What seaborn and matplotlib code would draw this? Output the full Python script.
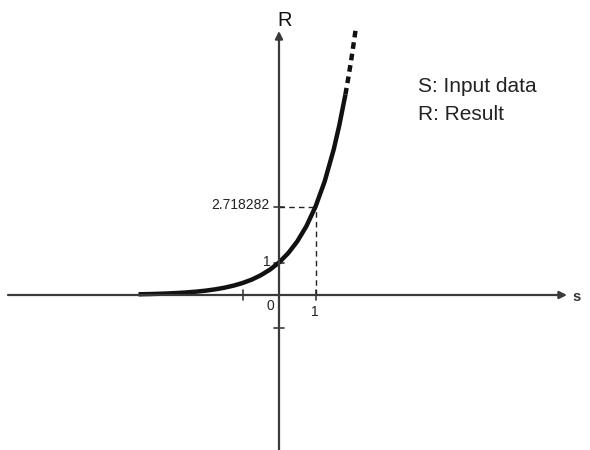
import matplotlib
matplotlib.use("Agg")
import matplotlib.pyplot as plt
import seaborn as sns
import pandas as pd

# ---- data ----
s_solid = [-3.85, -3.5, -3.25, -3.0, -2.75, -2.5, -2.25, -2.0, -1.75, -1.5, -1.25,
           -1.0, -0.75, -0.5, -0.25, 0.0, 0.25, 0.5, 0.75, 1.0, 1.25, 1.5, 1.65, 1.82]
r_solid = [0.021, 0.030, 0.039, 0.050, 0.064, 0.082, 0.105, 0.135, 0.174, 0.223, 0.287,
           0.368, 0.472, 0.607, 0.779, 1.0, 1.284, 1.649, 2.117, 2.718, 3.490, 4.482, 5.21, 6.17]
s_dashed = [1.82, 1.9, 1.98, 2.06, 2.1]
r_dashed = [6.17, 6.69, 7.24, 7.85, 8.17]
e_point = (1.0, 2.718282)
x_ticks = [-1, 1]
y_ticks = [1, 2.718282, -1]
x_tick_labels = {0: "0", 1: "1"}
y_tick_labels = {1: "1", 2.718282: "2.718282"}
legend_lines = ["S: Input data", "R: Result"]
x_axis_name = "s"
y_axis_name = "R"

# ---- layout (pixel mapping) ----
OX, OY = 279.0, 295.0      # origin in pixels
SX, SY = 36.5, 32.5        # pixels per unit
W, H = 590, 450


def px2x(p):
    return (p - OX) / SX


def px2y(p):
    return (OY - p) / SY


sns.set_theme(style="white")
plt.rcParams["font.family"] = ["Liberation Sans", "DejaVu Sans"]

fig = plt.figure(figsize=(W / 100, H / 100), dpi=100)
ax = fig.add_axes([0, 0, 1, 1])

axis_col = "#3a3a3a"
curve_col = "#111111"

# axes with arrows
ax.annotate("", xy=(px2x(567), 0), xytext=(px2x(8), 0),
            arrowprops=dict(arrowstyle="-|>", lw=1.6, color=axis_col,
                            mutation_scale=11, shrinkA=0, shrinkB=0))
ax.annotate("", xy=(0, px2y(31)), xytext=(0, px2y(452)),
            arrowprops=dict(arrowstyle="-|>", lw=1.6, color=axis_col,
                            mutation_scale=11, shrinkA=0, shrinkB=0))

# tick marks
tl = 5
for t in x_ticks:
    ax.plot([t, t], [px2y(OY - tl), px2y(OY + tl)], color=axis_col, lw=1.2)
for t in y_ticks:
    ax.plot([px2x(OX - tl), px2x(OX + tl)], [t, t], color=axis_col, lw=1.2)

# guide lines to e
ex, ey = e_point
ax.plot([ex, ex], [0, ey], color="#222222", lw=1.0, linestyle=(0, (4, 3)))
ax.plot([0, ex], [ey, ey], color="#222222", lw=1.0, linestyle=(0, (4, 3)))

# curve
df_solid = pd.DataFrame({"S": s_solid, "R": r_solid})
df_dash = pd.DataFrame({"S": s_dashed, "R": r_dashed})
sns.lineplot(data=df_solid, x="S", y="R", ax=ax, color=curve_col, lw=3.2,
             estimator=None, sort=False, solid_capstyle="butt")
sns.lineplot(data=df_dash, x="S", y="R", ax=ax, color=curve_col, lw=3.2,
             estimator=None, sort=False, linestyle=(0, (1.5, 1.1)),
             dash_capstyle="butt")
ax.set_xlim(px2x(0), px2x(W))
ax.set_ylim(px2y(H), px2y(0))
ax.axis("off")

# tick labels
lab_kw = dict(fontsize=10, color="#222222")
ax.text(px2x(270), px2y(306), x_tick_labels[0], ha="center", va="center", **lab_kw)
ax.text(px2x(315), px2y(312), x_tick_labels[1], ha="center", va="center", **lab_kw)
ax.text(px2x(267), px2y(262), y_tick_labels[1], ha="center", va="center", **lab_kw)
ax.text(px2x(269), px2y(205), y_tick_labels[2.718282], ha="right", va="center", **lab_kw)

# axis names
ax.text(px2x(285), px2y(20), y_axis_name, ha="center", va="center",
        fontsize=14.5, color="#111111")
ax.text(px2x(577), px2y(297), x_axis_name, ha="center", va="center",
        fontsize=10.5, fontweight="bold", color="#333333")

# description
ax.text(px2x(418), px2y(87), legend_lines[0], ha="left", va="center",
        fontsize=15, color="#222222")
ax.text(px2x(418), px2y(115), legend_lines[1], ha="left", va="center",
        fontsize=15, color="#222222")

fig.savefig("out.png", dpi=100)
